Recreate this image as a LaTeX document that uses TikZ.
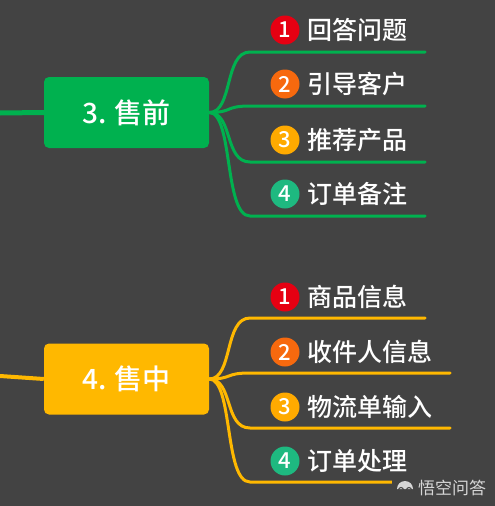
\documentclass[tikz,border=0pt]{standalone}
\usepackage{fontspec}
\newfontfamily\cjk{Noto Sans CJK SC}[BoldFont={Noto Sans CJK SC Medium}]
\definecolor{bgdark}{HTML}{434343}
\definecolor{presale}{HTML}{00B14F}
\definecolor{insale}{HTML}{FFB800}
\definecolor{numred}{HTML}{E60012}
\definecolor{numorange}{HTML}{F7690E}
\definecolor{numyellow}{HTML}{FFAA00}
\definecolor{numgreen}{HTML}{1EB980}
\definecolor{markgray}{HTML}{D6D6D6}

\begin{document}
\begin{tikzpicture}[x=1pt,y=-1pt,
  topic/.style={rounded corners=5pt, minimum width=165pt, minimum height=71pt,
    inner sep=0pt, text=white, font=\cjk\bfseries\fontsize{28}{32}\selectfont},
  badge/.style={circle, minimum size=29pt, inner sep=0pt, text=white,
    font=\cjk\bfseries\fontsize{22}{24}\selectfont},
  item/.style={anchor=west, inner sep=0pt, text=white,
    font=\cjk\bfseries\fontsize{25}{28}\selectfont},
  branch/.style={line width=3pt, line cap=round}]
  \useasboundingbox (0,0) rectangle (495,506);
  \fill[bgdark] (-2,-2) rectangle (497,508);

  % 3. pre-sale
  \node[topic, fill=presale] (pre) at (126.5,112.5) {3. 售前};
  \coordinate (pre in) at (0,113);
  \draw[presale, line width=5pt] (pre in) -- (pre.west);
  \foreach \i/\y/\xe/\col/\txt in {1/52/425/numred/回答问题,
                                   2/106/425/numorange/引导客户,
                                   3/162/425/numyellow/推荐产品,
                                   4/216/425/numgreen/订单备注}{
    \coordinate (pre\i s) at (250,\y);
    \coordinate (pre\i e) at (\xe,\y);
    \draw[branch, presale] (pre.east) .. controls +(24,0) and +(-26,0) .. (pre\i s) -- (pre\i e);
    \node[badge, fill=\col] (pre\i n) at (285,\y-22) {\i};
    \node[item] (pre\i t) at (307,\y-22) {\txt};
  }

  % 4. in-sale
  \node[topic, fill=insale] (mid) at (126.5,379) {4. 售中};
  \coordinate (mid in) at (0,376);
  \draw[insale, line width=4pt] (mid in) -- (mid.west);
  \foreach \i/\y/\xe/\col/\txt in {1/318/425/numred/商品信息,
                                   2/373/450/numorange/收件人信息,
                                   3/428/450/numyellow/物流单输入,
                                   4/482/425/numgreen/订单处理}{
    \coordinate (mid\i s) at (250,\y);
    \coordinate (mid\i e) at (\xe,\y);
    \draw[branch, insale] (mid.east) .. controls +(24,0) and +(-26,0) .. (mid\i s) -- (mid\i e);
    \node[badge, fill=\col] (mid\i n) at (285,\y-21) {\i};
    \node[item] (mid\i t) at (307,\y-21) {\txt};
  }

  % watermark
  \fill[bgdark] (392,478) rectangle (495,500);
  \fill[markgray] (397,489) arc[start angle=180, end angle=0, radius=8pt] -- cycle;
  \draw[bgdark, line width=1pt] (401,490) circle[radius=2.5pt] (409,490) circle[radius=2.5pt];
  \node[anchor=west, inner sep=0pt, text=markgray, font=\cjk\fontsize{17}{19}\selectfont]
    (mark) at (418,488) {悟空问答};
\end{tikzpicture}
\end{document}
